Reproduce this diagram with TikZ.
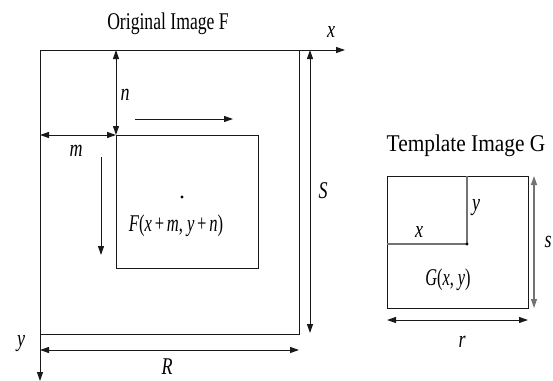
\documentclass[tikz,border=0pt]{standalone}
\usepackage{fontspec}
\setmainfont{Liberation Serif}
\usetikzlibrary{arrows.meta}
\newcommand{\xs}[2]{\scalebox{#1}[1]{#2}}
\tikzset{
  x=1pt, y=-1pt,
  line/.style={line width=1pt, draw=black!90},
  gline/.style={line width=1.2pt, draw=black!55},
  tip/.style={-{Triangle[length=9pt,width=6pt]}},
  dtip/.style={{Triangle[length=9pt,width=6pt]}-{Triangle[length=9pt,width=6pt]}},
  lbl/.style={inner sep=0pt, font=\fontsize{24}{28}\selectfont\itshape},
  ttl/.style={inner sep=0pt, font=\fontsize{24}{28}\selectfont},
  dot/.style={circle, fill=black, inner sep=0pt, minimum size=3.4pt},
}
\begin{document}
\begin{tikzpicture}
\useasboundingbox (0,0) rectangle (553,380);
% outer image F
\coordinate (OTL) at (40,50);
\coordinate (OTR) at (299,50);
\coordinate (OBL) at (40,334);
\coordinate (OBR) at (299,334);
\coordinate (XEnd) at (345,50);
\coordinate (YEnd) at (40,381);
\draw[line] (OTR) -- (OBR) -- (OBL);
\draw[line, tip] (OTL) -- (XEnd);
\draw[line, tip] (OTL) -- (YEnd);
% inner window
\coordinate (ITL) at (116,135);
\coordinate (IBR) at (258,268);
\coordinate (ITop) at (116,50);
\coordinate (ILeft) at (40,135);
\draw[line] (ITL) rectangle (IBR);
\draw[line, dtip] (ITop) -- (ITL);
\draw[line, dtip] (ILeft) -- (ITL);
% motion arrows
\coordinate (RA1) at (135,119);
\coordinate (RA2) at (233,119);
\coordinate (DA1) at (101,157);
\coordinate (DA2) at (101,255);
\draw[line, tip] (RA1) -- (RA2);
\draw[line, tip] (DA1) -- (DA2);
% S and R
\coordinate (S1) at (310,50);
\coordinate (S2) at (310,333);
\coordinate (R1) at (40,350);
\coordinate (R2) at (299,350);
\draw[line, dtip] (S1) -- (S2);
\draw[line, dtip] (R1) -- (R2);
\node[dot] (pF) at (182,197) {};
% labels F
\node[ttl] (tF) at (168,24) {\xs{0.735}{Original Image F}};
\node[lbl] (lx) at (331,32) {\xs{0.75}{x}};
\node[lbl] (ly) at (21,344) {\xs{0.75}{y}};
\node[lbl] (ln) at (125,95) {\xs{0.75}{n}};
\node[lbl] (lm) at (76,151) {\xs{0.75}{m}};
\node[lbl] (lS) at (323,191) {\xs{0.75}{S}};
\node[lbl] (lR) at (167,367) {\xs{0.75}{R}};
\node[lbl] (lF) at (176,226) {\xs{0.69}{F\/\upshape(\itshape x\,\upshape+\,\itshape m\upshape, \itshape y\,\upshape+\,\itshape n\/\upshape)}};
% template G
\coordinate (GTL) at (387,176);
\coordinate (GBR) at (528,308);
\coordinate (GTop) at (467,176);
\coordinate (GLeft) at (387,244);
\coordinate (GP) at (467,244);
\draw[line] (GTL) rectangle (GBR);
\draw[gline] (GTop) -- (GP) -- (GLeft);
\node[dot] (pG) at (GP) {};
\coordinate (s1) at (534,176);
\coordinate (s2) at (534,308);
\coordinate (r1) at (387,320);
\coordinate (r2) at (528,320);
\draw[gline, dtip] (s1) -- (s2);
\draw[line, dtip] (r1) -- (r2);
\node[ttl] (tG) at (466,146) {\xs{0.89}{Template Image G}};
\node[lbl] (gy) at (476,208) {\xs{0.75}{y}};
\node[lbl] (gx) at (419,232) {\xs{0.75}{x}};
\node[lbl] (gs) at (548,242) {\xs{0.75}{s}};
\node[lbl] (gr) at (462,342) {\xs{0.75}{r}};
\node[lbl] (gG) at (448,280) {\xs{0.68}{G\upshape(\itshape x\upshape, \itshape y\/\upshape)}};
\end{tikzpicture}
\end{document}
